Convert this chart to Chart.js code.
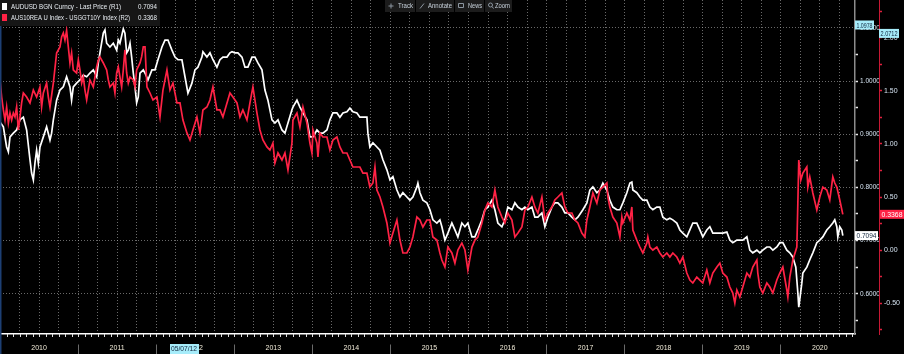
<!DOCTYPE html>
<html><head><meta charset="utf-8">
<script src="https://cdn.jsdelivr.net/npm/chart.js@4.4.1/dist/chart.umd.min.js"></script>
<style>html,body{margin:0;padding:0;background:#000;overflow:hidden}canvas{display:block}</style>
</head><body><canvas id="c" width="904" height="354"></canvas>
<script>
// ---- data (decimal years) ----
const years = ['2010','2011','2012','2013','2014','2015','2016','2017','2018','2019','2020'];
const seriesNames = ['AUDUSD BGN Curncy - Last Price (R1)', 'AUS10REA U Index - USGGT10Y Index (R2)'];
const lastValues = ['0.7094', '0.3368'];
const highLabels = ['1.0978', '2.0712'];
const audDates = [2010.000,2010.043,2010.085,2010.107,2010.128,2010.171,2010.213,2010.256,2010.299,2010.341,2010.384,2010.405,2010.427,2010.448,2010.469,2010.491,2010.512,2010.555,2010.597,2010.640,2010.661,2010.683,2010.725,2010.768,2010.811,2010.853,2010.896,2010.917,2010.939,2010.981,
2011.024,2011.067,2011.110,2011.152,2011.195,2011.238,2011.259,2011.280,2011.323,2011.344,2011.366,2011.408,2011.451,2011.494,2011.515,2011.536,2011.579,2011.600,2011.622,2011.643,2011.665,2011.686,2011.707,2011.729,2011.750,2011.771,2011.793,2011.835,2011.857,2011.895,2011.946,2011.985,
2012.023,2012.074,2012.113,2012.151,2012.202,2012.241,2012.279,2012.330,2012.369,2012.407,2012.458,2012.497,2012.535,2012.586,2012.599,2012.650,2012.689,2012.727,2012.778,2012.817,2012.855,2012.907,2012.945,2012.971,
2013.009,2013.047,2013.099,2013.137,2013.175,2013.227,2013.265,2013.303,2013.355,2013.393,2013.431,2013.483,2013.521,2013.560,2013.611,2013.649,2013.688,2013.739,2013.752,2013.803,2013.841,2013.880,2013.931,2013.969,
2014.008,2014.059,2014.097,2014.136,2014.187,2014.225,2014.264,2014.315,2014.353,2014.392,2014.443,2014.481,2014.520,2014.571,2014.609,2014.648,2014.699,2014.712,2014.737,2014.776,2014.827,2014.866,2014.904,2014.955,2014.994,
2015.032,2015.083,2015.122,2015.160,2015.211,2015.250,2015.288,2015.339,2015.352,2015.378,2015.416,2015.467,2015.506,2015.544,2015.595,2015.634,2015.659,2015.698,2015.736,2015.787,2015.826,2015.864,2015.915,2015.954,2015.992,
2016.044,2016.082,2016.120,2016.172,2016.210,2016.248,2016.300,2016.338,2016.376,2016.428,2016.466,2016.504,2016.556,2016.594,2016.633,2016.684,2016.722,2016.761,2016.812,2016.850,2016.889,2016.940,2016.978,
2017.017,2017.068,2017.106,2017.145,2017.196,2017.234,2017.273,2017.324,2017.362,2017.401,2017.465,2017.516,2017.554,2017.593,2017.644,2017.682,2017.721,2017.772,2017.810,2017.849,2017.900,2017.939,2017.977,
2018.028,2018.067,2018.092,2018.105,2018.156,2018.195,2018.233,2018.284,2018.323,2018.361,2018.412,2018.451,2018.489,2018.540,2018.579,2018.617,2018.668,2018.707,2018.745,2018.796,2018.835,2018.873,2018.924,2018.963,
2019.001,2019.052,2019.091,2019.129,2019.181,2019.219,2019.257,2019.309,2019.347,2019.385,2019.437,2019.475,2019.513,2019.565,2019.603,2019.641,2019.693,2019.731,2019.769,2019.821,2019.859,2019.898,2019.949,2019.987,
2020.026,2020.077,2020.115,2020.154,2020.192,2020.218,2020.230,2020.269,2020.282,2020.333,2020.371,2020.410,2020.461,2020.499,2020.538,2020.589,2020.627,2020.666,2020.691,2020.717,2020.730,2020.755,2020.781,2020.794];
const audValues = [0.923,0.914,0.876,0.867,0.895,0.902,0.908,0.927,0.932,0.908,0.852,0.827,0.814,0.846,0.870,0.846,0.876,0.895,0.914,0.889,0.902,0.927,0.964,0.983,0.989,1.008,0.989,0.964,0.989,0.996,
1.002,1.011,1.008,1.015,1.021,1.008,1.034,1.053,1.090,1.096,1.071,1.064,1.071,1.058,1.077,1.071,1.098,1.090,1.053,1.058,1.071,1.045,1.015,0.989,0.959,0.970,1.015,1.021,1.015,1.002,1.021,1.021,
1.040,1.064,1.077,1.077,1.058,1.045,1.040,1.040,1.008,0.977,0.996,1.021,1.026,1.045,1.055,1.045,1.053,1.040,1.026,1.040,1.045,1.045,1.053,1.055,
1.053,1.053,1.045,1.026,1.026,1.045,1.045,1.034,1.021,0.983,0.964,0.927,0.921,0.927,0.908,0.902,0.921,0.946,0.951,0.964,0.951,0.940,0.927,0.895,
0.895,0.908,0.902,0.902,0.908,0.927,0.940,0.940,0.932,0.940,0.942,0.949,0.942,0.940,0.932,0.932,0.932,0.902,0.876,0.884,0.876,0.870,0.852,0.833,0.814,
0.820,0.795,0.782,0.790,0.782,0.776,0.782,0.801,0.808,0.790,0.776,0.771,0.758,0.739,0.733,0.739,0.726,0.701,0.714,0.733,0.720,0.707,0.733,0.726,0.733,
0.707,0.707,0.720,0.739,0.758,0.763,0.776,0.758,0.733,0.726,0.739,0.763,0.758,0.771,0.763,0.758,0.763,0.758,0.763,0.744,0.744,0.752,0.726,
0.744,0.763,0.771,0.771,0.763,0.752,0.752,0.744,0.739,0.744,0.758,0.771,0.795,0.801,0.790,0.795,0.808,0.795,0.776,0.763,0.758,0.758,0.771,
0.790,0.808,0.810,0.795,0.790,0.782,0.776,0.776,0.763,0.758,0.763,0.763,0.744,0.739,0.742,0.739,0.733,0.720,0.714,0.707,0.720,0.733,0.733,0.720,
0.707,0.720,0.726,0.714,0.714,0.714,0.714,0.716,0.701,0.696,0.701,0.701,0.701,0.707,0.682,0.677,0.682,0.677,0.682,0.688,0.688,0.682,0.688,0.696,
0.696,0.682,0.677,0.669,0.650,0.602,0.575,0.620,0.639,0.650,0.664,0.677,0.696,0.701,0.707,0.720,0.726,0.733,0.739,0.726,0.707,0.726,0.720,0.7094];
const spreadDates = [2010.000,2010.021,2010.043,2010.064,2010.085,2010.107,2010.128,2010.149,2010.171,2010.192,2010.213,2010.235,2010.256,2010.277,2010.299,2010.341,2010.384,2010.427,2010.469,2010.512,2010.533,2010.555,2010.597,2010.619,2010.640,2010.683,2010.725,2010.768,2010.789,2010.811,2010.832,2010.853,2010.875,2010.896,2010.917,2010.939,2010.981,
2011.003,2011.024,2011.046,2011.067,2011.088,2011.110,2011.152,2011.195,2011.238,2011.259,2011.280,2011.323,2011.366,2011.387,2011.408,2011.451,2011.472,2011.494,2011.515,2011.536,2011.558,2011.579,2011.600,2011.622,2011.643,2011.665,2011.707,2011.729,2011.750,2011.793,2011.814,2011.835,2011.857,2011.882,2011.921,2011.959,
2012.010,2012.049,2012.087,2012.138,2012.177,2012.215,2012.266,2012.305,2012.343,2012.394,2012.433,2012.471,2012.522,2012.561,2012.599,2012.650,2012.689,2012.727,2012.778,2012.817,2012.855,2012.907,2012.945,2012.983,
2013.035,2013.073,2013.111,2013.163,2013.201,2013.239,2013.291,2013.329,2013.367,2013.419,2013.457,2013.495,2013.521,2013.560,2013.611,2013.649,2013.688,2013.739,2013.752,2013.803,2013.841,2013.880,2013.931,2013.969,2013.995,
2014.008,2014.059,2014.072,2014.097,2014.136,2014.187,2014.225,2014.264,2014.315,2014.353,2014.392,2014.443,2014.481,2014.520,2014.571,2014.609,2014.648,2014.699,2014.737,2014.776,2014.802,2014.827,2014.866,2014.904,2014.955,2014.994,
2015.032,2015.083,2015.122,2015.160,2015.211,2015.250,2015.288,2015.339,2015.378,2015.416,2015.467,2015.506,2015.544,2015.595,2015.634,2015.659,2015.698,2015.736,2015.787,2015.826,2015.864,2015.915,2015.954,2015.992,
2016.044,2016.082,2016.120,2016.172,2016.210,2016.248,2016.300,2016.338,2016.376,2016.428,2016.466,2016.504,2016.556,2016.594,2016.633,2016.684,2016.722,2016.761,2016.812,2016.850,2016.889,2016.940,2016.978,
2017.017,2017.068,2017.106,2017.145,2017.196,2017.234,2017.273,2017.324,2017.362,2017.401,2017.452,2017.490,2017.516,2017.554,2017.593,2017.644,2017.682,2017.721,2017.772,2017.785,2017.810,2017.849,2017.900,2017.939,2017.964,2017.977,
2018.028,2018.067,2018.092,2018.105,2018.156,2018.195,2018.233,2018.284,2018.297,2018.323,2018.361,2018.412,2018.451,2018.489,2018.540,2018.579,2018.617,2018.668,2018.707,2018.745,2018.796,2018.835,2018.873,2018.924,2018.963,
2019.001,2019.052,2019.091,2019.129,2019.181,2019.219,2019.257,2019.309,2019.347,2019.385,2019.411,2019.437,2019.475,2019.513,2019.565,2019.603,2019.641,2019.693,2019.705,2019.731,2019.769,2019.821,2019.859,2019.898,2019.949,2019.987,
2020.026,2020.077,2020.090,2020.115,2020.154,2020.205,2020.218,2020.230,2020.256,2020.282,2020.333,2020.346,2020.371,2020.410,2020.461,2020.499,2020.538,2020.589,2020.627,2020.666,2020.691,2020.717,2020.755,2020.794];
const spreadValues = [1.604,1.443,1.321,1.226,1.349,1.198,1.292,1.226,1.292,1.255,1.349,1.132,1.255,1.387,1.481,1.443,1.387,1.509,1.443,1.538,1.349,1.481,1.575,1.443,1.349,1.575,1.858,1.915,2.009,2.047,1.981,2.071,1.915,1.764,1.858,1.698,1.670,
1.792,1.698,1.575,1.632,1.509,1.415,1.604,1.538,1.726,1.792,1.821,1.764,1.698,1.604,1.538,1.575,1.481,1.670,1.726,1.632,1.538,1.698,1.887,1.670,1.575,1.632,1.604,1.538,1.698,1.764,1.821,1.915,1.915,1.538,1.481,1.415,
1.443,1.255,1.509,1.698,1.509,1.575,1.387,1.387,1.226,1.104,1.038,1.132,1.255,1.104,1.321,1.349,1.415,1.538,1.321,1.321,1.255,1.387,1.481,1.443,
1.387,1.255,1.321,1.226,1.387,1.538,1.292,1.132,1.038,0.972,0.943,1.009,0.821,0.915,0.849,0.915,0.755,1.009,1.226,1.292,1.160,1.349,1.198,1.009,0.915,
1.132,1.009,0.877,1.104,1.066,1.066,0.943,1.038,1.066,0.972,0.915,0.915,0.849,0.783,0.783,0.783,0.726,0.726,0.594,0.632,0.783,0.566,0.500,0.406,0.255,0.066,
0.160,0.283,0.094,-0.028,-0.028,0.028,0.123,0.311,0.283,0.217,0.283,0.283,0.123,0.094,-0.028,-0.094,-0.160,0.028,-0.028,-0.123,0.000,0.066,0.000,-0.189,
0.028,0.094,0.123,0.255,0.377,0.443,0.406,0.566,0.406,0.311,0.255,0.349,0.283,0.123,0.160,0.217,0.377,0.406,0.500,0.406,0.349,0.500,0.283,
0.349,0.406,0.472,0.500,0.538,0.406,0.349,0.349,0.283,0.255,0.160,0.123,0.283,0.406,0.538,0.443,0.566,0.594,0.632,0.500,0.406,0.311,0.255,0.123,0.311,0.255,
0.349,0.283,0.406,0.189,0.094,0.028,-0.028,0.066,0.123,0.028,0.000,0.028,-0.028,-0.066,-0.028,-0.066,-0.028,-0.066,-0.123,-0.066,-0.217,-0.283,-0.311,-0.255,-0.283,
-0.311,-0.189,-0.311,-0.217,-0.160,-0.123,-0.217,-0.255,-0.349,-0.406,-0.500,-0.377,-0.443,-0.349,-0.217,-0.255,-0.160,-0.094,-0.217,-0.349,-0.406,-0.311,-0.349,-0.406,-0.283,-0.217,
-0.160,-0.377,-0.443,-0.255,-0.094,0.028,0.443,0.849,0.660,0.726,0.783,0.594,0.689,0.538,0.377,0.500,0.594,0.566,0.472,0.689,0.632,0.594,0.472,0.3368];
const r1Ticks = [0.55,0.60,0.65,0.70,0.75,0.80,0.85,0.90,0.95,1.00,1.05,1.10];
const r2Ticks = [-0.75,-0.50,-0.25,0.00,0.25,0.50,0.75,1.00,1.25,1.50,1.75,2.00,2.25];

// ---- styling ----
const FONT = '"Liberation Sans","DejaVu Sans",sans-serif';
const WHITE = '#ffffff', RED = '#ff2245';
const GRID = 'rgba(175,175,175,0.6)';
const isR1Major = v => Math.abs(v * 10 - Math.round(v * 10)) < 1e-6;
const isR2Major = v => Math.abs(v * 2 - Math.round(v * 2)) < 1e-6;
const isYear = v => Math.abs(v - Math.round(v)) < 1e-6;
const isMid = v => Math.abs(v - Math.floor(v) - 0.5) < 1e-6;

const quarterTicks = [];
years.forEach(y => { for (let q = 0; q < 4; q++) quarterTicks.push(+y + q / 4); });

// draw text squeezed horizontally to a given width (left aligned)
function fitText(ctx, text, x, y, w, size, color) {
  ctx.save();
  ctx.font = size + 'px ' + FONT;
  ctx.textAlign = 'left'; ctx.textBaseline = 'middle';
  ctx.fillStyle = color;
  const m = ctx.measureText(text).width;
  ctx.translate(x, y);
  ctx.scale(w / m, 1);
  ctx.fillText(text, 0, 0);
  ctx.restore();
}

const overlay = {
  id: 'overlay',
  afterDraw(chart) {
    const {ctx, scales} = chart;
    const x = scales.x, y1 = scales.y1, y2 = scales.y2;
    ctx.save();
    // monthly small ticks under the axis line
    ctx.strokeStyle = '#dddddd'; ctx.lineWidth = 1;
    for (let m = 0; m < years.length * 12; m++) {
      const px = Math.round(x.getPixelForValue(2010 + m / 12)) + 0.5;
      if (px > chart.chartArea.right) break;
      ctx.beginPath(); ctx.moveTo(px, x.top); ctx.lineTo(px, x.top + 3); ctx.stroke();
    }
    // left edge accent
    ctx.fillStyle = '#1d3f73'; ctx.fillRect(0, 0, 1.5, 354);
    // legend
    ctx.fillStyle = '#161616'; ctx.fillRect(0, 0, 160, 26);
    ctx.fillStyle = WHITE; ctx.fillRect(2, 3, 5, 7);
    ctx.fillStyle = RED; ctx.fillRect(2, 14, 5, 7);
    fitText(ctx, seriesNames[0], 11, 7, 110, 8, '#e8edf2');
    fitText(ctx, seriesNames[1], 11, 17.5, 119, 8, '#e8edf2');
    fitText(ctx, lastValues[0], 138, 7, 19, 8, '#e8edf2');
    fitText(ctx, lastValues[1], 138, 17.5, 19, 8, '#e8edf2');
    // toolbar
    const btns = [[385, 30, 'Track', 15], [416, 38, 'Annotate', 24], [455, 29, 'News', 14], [485, 27, 'Zoom', 15]];
    btns.forEach(([bx, bw, label, tw], i) => {
      ctx.fillStyle = '#1c1c1c'; ctx.fillRect(bx, 0, bw, 12);
      fitText(ctx, label, bx + bw - tw - 2, 6, tw, 8, '#c8d2dc');
      const ix = bx + 6;
      ctx.strokeStyle = '#8c96a0'; ctx.fillStyle = '#8c96a0'; ctx.lineWidth = 1;
      ctx.beginPath();
      if (i === 0) { ctx.moveTo(ix - 2.5, 6); ctx.lineTo(ix + 2.5, 6); ctx.moveTo(ix, 3.5); ctx.lineTo(ix, 8.5); ctx.stroke(); }
      if (i === 1) { ctx.moveTo(ix - 2, 8.5); ctx.lineTo(ix + 2, 3.5); ctx.stroke(); }
      if (i === 2) { ctx.rect(ix - 2.5, 3.5, 5, 4); ctx.stroke(); }
      if (i === 3) { ctx.arc(ix - 0.5, 5, 2, 0, Math.PI * 2); ctx.moveTo(ix + 1, 6.5); ctx.lineTo(ix + 2.5, 8.5); ctx.stroke(); }
    });
    // crosshair date label
    ctx.fillStyle = '#a6ecfa'; ctx.fillRect(170, 344, 29, 10);
    fitText(ctx, '05/07/12', 171, 349, 26, 8, '#10243c');
    // value badges
    const badge = (text, bx, bw, yc, bg, fg) => {
      ctx.fillStyle = bg; ctx.fillRect(bx, yc - 4.5, bw, 9);
      fitText(ctx, text, bx + 1.5, yc + 0.5, bw - 3, 8, fg);
    };
    badge(highLabels[0], y1.left, 19, y1.getPixelForValue(+highLabels[0]) - 4, '#a6ecfa', '#10243c');
    badge(highLabels[1], y2.left, 20, y2.getPixelForValue(+highLabels[1]) + 3, '#a6ecfa', '#10243c');
    badge(lastValues[0], y1.left, 23, y1.getPixelForValue(+lastValues[0]), '#ffffff', '#10243c');
    badge(lastValues[1], y2.left + 1, 24, y2.getPixelForValue(+lastValues[1]), '#ff2245', '#ffffff');
    ctx.restore();
  }
};

new Chart(document.getElementById('c'), {
  type: 'line',
  data: {
    datasets: [
      { label: seriesNames[1], data: spreadDates.map((d, i) => ({x: d, y: spreadValues[i]})), yAxisID: 'y2',
        borderColor: RED, borderWidth: 1.7, pointRadius: 0, tension: 0, fill: false },
      { label: seriesNames[0], data: audDates.map((d, i) => ({x: d, y: audValues[i]})), yAxisID: 'y1',
        borderColor: WHITE, borderWidth: 1.7, pointRadius: 0, tension: 0, fill: false }
    ]
  },
  options: {
    responsive: false, animation: false, devicePixelRatio: 1,
    layout: { padding: 0 },
    plugins: { legend: { display: false }, tooltip: { enabled: false } },
    scales: {
      x: {
        type: 'linear', position: 'bottom', min: 2010, max: 2020.95,
        afterBuildTicks: s => { s.ticks = quarterTicks.map(v => ({value: v})); },
        afterFit: s => { s.height = 20; s.paddingLeft = 0; s.paddingRight = 0; },
        ticks: { autoSkip: false, maxRotation: 0, padding: -10, color: '#efe9d6',
          font: { family: FONT, size: 7 },
          callback: v => isMid(v) ? String(Math.floor(v)) : '' },
        grid: { color: c => (c.tick && c.tick.value > 2010.01) ? GRID : 'transparent', lineWidth: 1,
          drawTicks: true, tickLength: 20, tickWidth: 1,
          tickColor: c => (c.tick && isYear(c.tick.value) && c.tick.value > 2010.01) ? '#6a6a6a' : 'transparent',
          tickBorderDash: [0, 10, 10, 0] },
        border: { display: true, color: '#ffffff', width: 1.5, dash: [1, 2] }
      },
      y1: {
        type: 'linear', position: 'right', min: 0.5244, max: 1.1523,
        afterBuildTicks: s => { s.ticks = r1Ticks.map(v => ({value: v})); },
        afterFit: s => { s.width = 24; s.paddingTop = 0; s.paddingBottom = 0; },
        ticks: { autoSkip: false, padding: 2, color: '#d4e2f0', font: { family: FONT, size: 6.5 },
          callback: v => isR1Major(v) ? v.toFixed(4) : '' },
        grid: { color: c => (c.tick && isR1Major(c.tick.value)) ? GRID : 'transparent', lineWidth: 1,
          drawOnChartArea: true, tickLength: 3, tickWidth: 1.5, tickColor: '#e8e8e8', tickBorderDash: [] },
        border: { display: true, color: '#8c8c8c', width: 1.5, dash: [1, 2] }
      },
      y2: {
        type: 'linear', position: 'right', min: -0.792, max: 2.358,
        afterBuildTicks: s => { s.ticks = r2Ticks.map(v => ({value: v})); },
        afterFit: s => { s.width = 25; s.paddingTop = 0; s.paddingBottom = 0; },
        ticks: { autoSkip: false, padding: 2, color: '#d4e2f0', font: { family: FONT, size: 7 },
          callback: v => isR2Major(v) ? v.toFixed(2) : '' },
        grid: { drawOnChartArea: false, tickLength: 3, tickWidth: 1.5, tickColor: '#e0203e', tickBorderDash: [] },
        border: { display: true, color: '#c81834', width: 1 }
      }
    }
  },
  plugins: [overlay]
});
</script>
</body></html>
